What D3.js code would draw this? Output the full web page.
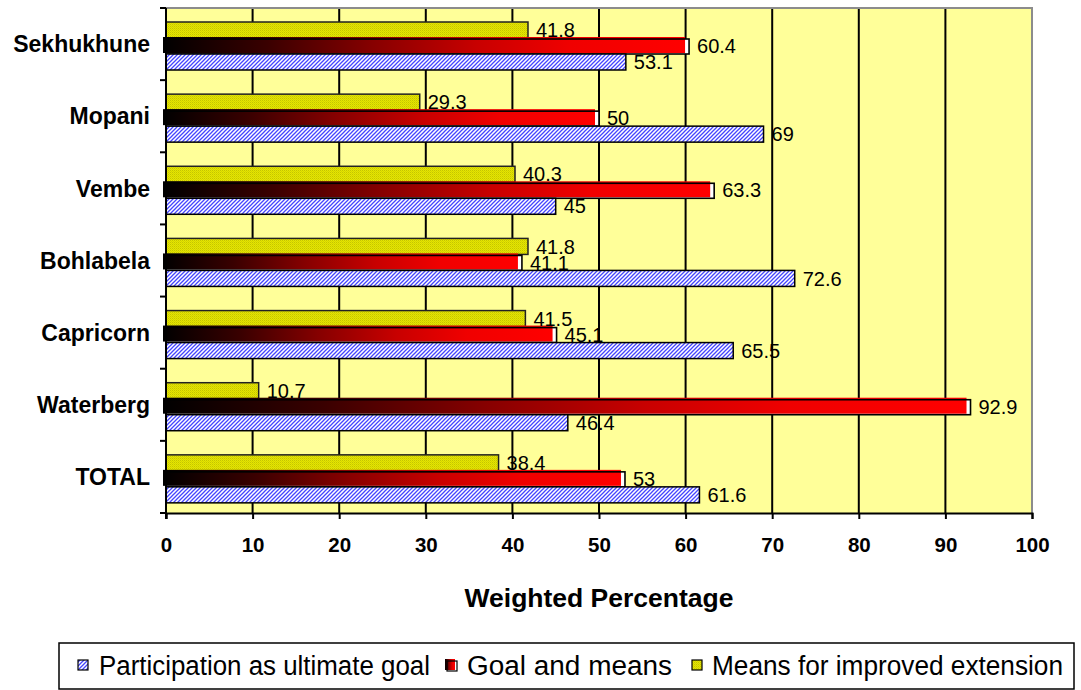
<!DOCTYPE html>
<html>
<head>
<meta charset="utf-8">
<script src="https://cdn.jsdelivr.net/npm/d3@7"></script>
<style>
  html, body { margin: 0; padding: 0; background: #fff; }
  svg text { font-family: "Liberation Sans", Arial, sans-serif; }
</style>
</head>
<body>
<svg id="chart" width="1081" height="690"></svg>
<script>
// District names, top to bottom
const categories = ["Sekhukhune", "Mopani", "Vembe", "Bohlabela", "Capricorn", "Waterberg", "TOTAL"];
// Weighted percentages per perception of participation
const participation = [53.1, 69, 45, 72.6, 65.5, 46.4, 61.6];
const goalAndMeans = [60.4, 50, 63.3, 41.1, 45.1, 92.9, 53];
const meansForExtension = [41.8, 29.3, 40.3, 41.8, 41.5, 10.7, 38.4];
const seriesNames = ["Participation as ultimate goal", "Goal and means", "Means for improved extension"];
const xTicks = [0, 10, 20, 30, 40, 50, 60, 70, 80, 90, 100];

const svg = d3.select("#chart");
const plot = { left: 166, right: 1032, top: 8, bottom: 513 };

const x = d3.scaleLinear().domain([0, 100]).range([plot.left, plot.right]);
const y = d3.scaleBand().domain(categories).range([plot.top, plot.bottom]).padding(0);
// order within each band: extension (top), goal and means, participation (bottom)
const inner = d3.scaleBand().domain(["ext", "goal", "part"]).range([14, 62]).padding(0);

const defs = svg.append("defs");

// fine diagonal hatch for the participation series
const hatch = defs.append("pattern").attr("id", "hatch")
  .attr("patternUnits", "userSpaceOnUse").attr("width", 4).attr("height", 4);
hatch.append("rect").attr("width", 4).attr("height", 4).attr("fill", "#ffffff");
hatch.append("path").attr("d", "M-1,1 l2,-2 M0,4 l4,-4 M3,5 l2,-2")
  .attr("stroke", "#4444ff").attr("stroke-width", 1.3);

// stippled yellow for the extension series
const dots = defs.append("pattern").attr("id", "dots")
  .attr("patternUnits", "userSpaceOnUse").attr("width", 2).attr("height", 2);
dots.append("rect").attr("width", 2).attr("height", 2).attr("fill", "#e6e600");
dots.append("rect").attr("width", 1).attr("height", 1).attr("fill", "#c4c400");
dots.append("rect").attr("x", 1).attr("y", 1).attr("width", 1).attr("height", 1).attr("fill", "#d4d400");

// black-to-red shading for the goal-and-means series
const grad = defs.append("linearGradient").attr("id", "redgrad")
  .attr("x1", "0%").attr("x2", "100%").attr("y1", "0%").attr("y2", "0%");
[[0, "#000000"], [0.2, "#3a0000"], [0.4, "#860000"], [0.6, "#c80000"], [0.78, "#f00000"], [1, "#ff0000"]]
  .forEach(([o, c]) => grad.append("stop").attr("offset", o).attr("stop-color", c));

// plot background
svg.append("rect")
  .attr("x", plot.left).attr("y", plot.top)
  .attr("width", plot.right - plot.left).attr("height", plot.bottom - plot.top)
  .attr("fill", "#ffff99");

// vertical gridlines
svg.append("g").selectAll("line")
  .data(xTicks.filter(t => t > 0 && t < 100))
  .join("line")
  .attr("x1", d => x(d)).attr("x2", d => x(d))
  .attr("y1", plot.top).attr("y2", plot.bottom)
  .attr("stroke", "#000").attr("stroke-width", 2);

// plot frame (top and right)
svg.append("path")
  .attr("d", `M${plot.left},${plot.top} H${plot.right} V${plot.bottom}`)
  .attr("fill", "none").attr("stroke", "#8c8c8c").attr("stroke-width", 2);

const rows = categories.map((c, i) => ({
  cat: c, part: participation[i], goal: goalAndMeans[i], ext: meansForExtension[i]
}));

const bars = svg.append("g");

// extension bars
bars.selectAll("rect.ext").data(rows).join("rect").attr("class", "ext")
  .attr("x", x(0)).attr("y", d => y(d.cat) + inner("ext"))
  .attr("width", d => x(d.ext) - x(0)).attr("height", inner.bandwidth())
  .attr("fill", "url(#dots)").attr("stroke", "#222").attr("stroke-width", 1.5);

// goal-and-means bars: white box, shaded fill shifted up/left, outline on top
const g2 = bars.selectAll("g.goal").data(rows).join("g").attr("class", "goal");
g2.append("rect")
  .attr("x", x(0)).attr("y", d => y(d.cat) + inner("goal") + 1)
  .attr("width", d => x(d.goal) - x(0)).attr("height", inner.bandwidth() - 1)
  .attr("fill", "#fff");
g2.append("rect")
  .attr("x", x(0) - 3).attr("y", d => y(d.cat) + inner("goal") - 1)
  .attr("width", d => x(d.goal) - x(0) - 1).attr("height", inner.bandwidth())
  .attr("fill", "url(#redgrad)");
g2.append("rect")
  .attr("x", x(0)).attr("y", d => y(d.cat) + inner("goal") + 1)
  .attr("width", d => x(d.goal) - x(0)).attr("height", inner.bandwidth() - 1)
  .attr("fill", "none").attr("stroke", "#000").attr("stroke-width", 1.6);

// participation bars
bars.selectAll("rect.part").data(rows).join("rect").attr("class", "part")
  .attr("x", x(0)).attr("y", d => y(d.cat) + inner("part"))
  .attr("width", d => x(d.part) - x(0)).attr("height", inner.bandwidth())
  .attr("fill", "url(#hatch)").attr("stroke", "#000").attr("stroke-width", 1.5);

// value labels
const labels = svg.append("g").attr("font-size", 20).attr("fill", "#000");
["ext", "goal", "part"].forEach(key => {
  labels.selectAll(`text.${key}`).data(rows).join("text").attr("class", key)
    .attr("x", d => x(d[key]) + 8)
    .attr("y", d => y(d.cat) + inner(key) + inner.bandwidth() / 2)
    .attr("dy", "0.36em")
    .text(d => d[key]);
});

// x axis
const xAxis = svg.append("g").attr("transform", `translate(0,${plot.bottom})`)
  .call(d3.axisBottom(x).tickValues(xTicks).tickSize(6).tickPadding(18).tickFormat(d3.format("d")));
xAxis.select(".domain").attr("stroke", "#000").attr("stroke-width", 2);
xAxis.selectAll(".tick line").attr("stroke", "#000").attr("stroke-width", 2);
xAxis.selectAll(".tick text").attr("font-size", 20.5).attr("font-weight", "bold")
  .attr("font-family", "Liberation Sans, Arial, sans-serif").attr("fill", "#000");

// y axis: ticks at band boundaries, labels at band centres
svg.append("line")
  .attr("x1", plot.left).attr("x2", plot.left)
  .attr("y1", plot.top).attr("y2", plot.bottom + 6)
  .attr("stroke", "#000").attr("stroke-width", 2);
const boundaries = categories.map(c => y(c)).concat([plot.bottom]);
svg.append("g").selectAll("line").data(boundaries).join("line")
  .attr("x1", plot.left - 6).attr("x2", plot.left)
  .attr("y1", d => d).attr("y2", d => d)
  .attr("stroke", "#000").attr("stroke-width", 2);
svg.append("g").selectAll("text").data(categories).join("text")
  .attr("x", 150).attr("y", d => y(d) + y.bandwidth() / 2)
  .attr("dy", "0.36em").attr("text-anchor", "end")
  .attr("font-size", 23).attr("font-weight", "bold")
  .text(d => d);

// axis title
svg.append("text")
  .attr("x", (plot.left + plot.right) / 2).attr("y", 607)
  .attr("text-anchor", "middle").attr("font-size", 26.5).attr("font-weight", "bold")
  .text("Weighted Percentage");

// legend
const legend = svg.append("g");
legend.append("rect").attr("x", 59).attr("y", 643).attr("width", 1015).attr("height", 46)
  .attr("fill", "#fff").attr("stroke", "#000").attr("stroke-width", 1.5);
const legendItems = [
  { name: seriesNames[0], sx: 78, tx: 99, w: 331, kind: "part" },
  { name: seriesNames[1], sx: 446, tx: 467, w: 205, kind: "goal" },
  { name: seriesNames[2], sx: 692, tx: 712, w: 351, kind: "ext" }
];
legendItems.forEach(it => {
  if (it.kind === "goal") {
    legend.append("rect").attr("x", it.sx + 1).attr("y", 661).attr("width", 10).attr("height", 10).attr("fill", "#fff");
    legend.append("rect").attr("x", it.sx - 1).attr("y", 659).attr("width", 10).attr("height", 11).attr("fill", "url(#redgrad)");
    legend.append("rect").attr("x", it.sx + 1).attr("y", 661).attr("width", 10).attr("height", 10)
      .attr("fill", "none").attr("stroke", "#000").attr("stroke-width", 1.2);
  } else {
    legend.append("rect").attr("x", it.sx).attr("y", 660).attr("width", 10).attr("height", 10)
      .attr("fill", it.kind === "part" ? "url(#hatch)" : "url(#dots)")
      .attr("stroke", "#000").attr("stroke-width", 1.2);
  }
  legend.append("text").attr("x", it.tx).attr("y", 675)
    .attr("font-size", 27).attr("textLength", it.w).attr("lengthAdjust", "spacingAndGlyphs")
    .text(it.name);
});
</script>
</body>
</html>
